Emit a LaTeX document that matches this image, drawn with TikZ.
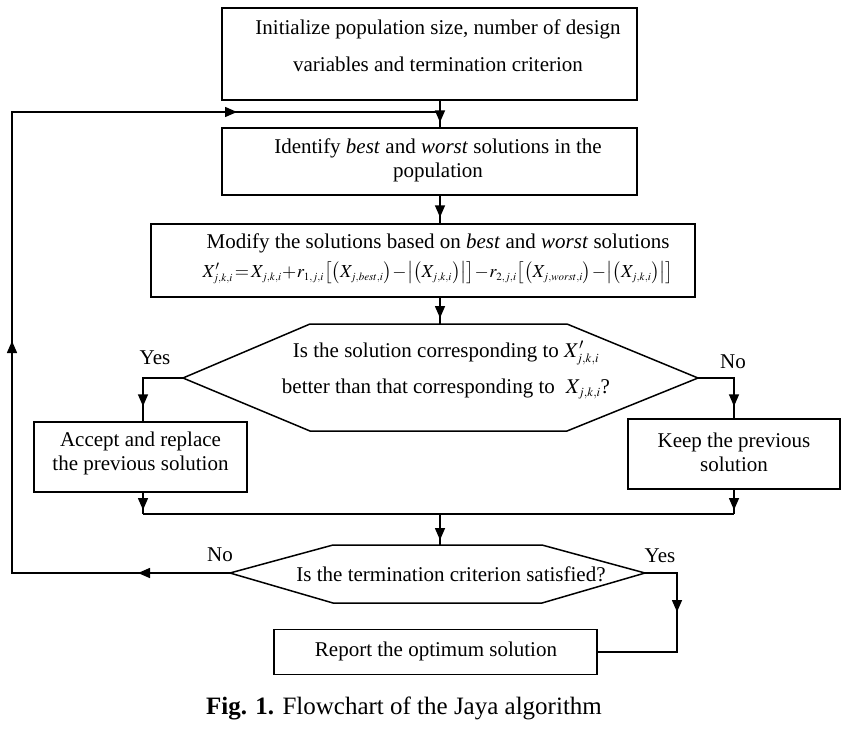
\documentclass[tikz,border=0pt]{standalone}
\usepackage{mathptmx}
\usepackage[no-math]{fontspec}
\setmainfont{Liberation Serif}
\usetikzlibrary{arrows.meta,decorations.markings}
\newcommand\sbx[1]{_{\scriptscriptstyle #1}}
\tikzset{
  wire/.style={line width=1.5pt},
  boxnode/.style={draw, line width=1.4pt, inner sep=0pt},
  txt/.style={inner sep=0pt, align=center, font=\fontsize{21}{24}\selectfont},
  tipat/.style={postaction={decorate,decoration={markings,mark=at position #1 with {\arrow{Triangle[length=12pt,width=10pt]}}}}},
}
\begin{document}
\begin{tikzpicture}[x=1pt,y=-1pt]
\useasboundingbox (0,0) rectangle (858,731);
% boxes
\node[boxnode, minimum width=415pt, minimum height=92pt] (b1) at (429.5,54) {};
\node[txt, font=\fontsize{21}{37}\selectfont] (t1) at (438,45.5) {Initialize population size, number of design\\variables and termination criterion};
\node[boxnode, minimum width=415pt, minimum height=67pt] (b2) at (429.5,161.5) {};
\node[txt] (t2) at (438,160) {Identify \textit{best} and \textit{worst} solutions in the\\population};
\node[boxnode, minimum width=544pt, minimum height=73pt] (b3) at (423,260.5) {};
\node[txt] (t3a) at (438,243) {Modify the solutions based on \textit{best} and \textit{worst} solutions};
\node[txt, font=\fontsize{18.3}{22}\selectfont] (t3b) at (438,273) {$X'\sbx{j,k,i}\!=\!X\sbx{j,k,i}\!+\!r\sbx{1,j,i}\big[\big(X\sbx{j,best,i}\big)\!-\!\big|\big(X\sbx{j,k,i}\big)\big|\big]\!-\!r\sbx{2,j,i}\big[\big(X\sbx{j,worst,i}\big)\!-\!\big|\big(X\sbx{j,k,i}\big)\big|\big]$};
% decision 1
\coordinate (h1L) at (183,378);
\coordinate (h1TL) at (310,324);
\coordinate (h1TR) at (567,324);
\coordinate (h1R) at (698,378);
\coordinate (h1BR) at (567,431);
\coordinate (h1BL) at (310,431);
\draw[wire] (h1L) -- (h1TL) -- (h1TR) -- (h1R) -- (h1BR) -- (h1BL) -- cycle;
\node[txt, font=\fontsize{21}{36}\selectfont] (t4) at (446,370) {Is the solution corresponding to $X'\sbx{j,k,i}$\\better than that corresponding to \;$X\sbx{j,k,i}$?};
\node[boxnode, minimum width=213pt, minimum height=70pt] (acc) at (140.5,457) {};
\node[txt] (t5) at (140.5,453) {Accept and replace\\the previous solution};
\node[boxnode, minimum width=212pt, minimum height=70pt] (keep) at (734,454) {};
\node[txt] (t6) at (734,452) {Keep the previous\\solution};
% decision 2
\coordinate (h2L) at (230,573);
\coordinate (h2TL) at (333,545);
\coordinate (h2TR) at (542,545);
\coordinate (h2R) at (645,573);
\coordinate (h2BR) at (542,603);
\coordinate (h2BL) at (333,603);
\draw[wire] (h2L) -- (h2TL) -- (h2TR) -- (h2R) -- (h2BR) -- (h2BL) -- cycle;
\node[txt] (t7) at (451,574) {Is the termination criterion satisfied?};
\node[boxnode, minimum width=323pt, minimum height=45pt] (rep) at (435.5,652) {};
\node[txt] (t8) at (436,651) {Report the optimum solution};
% labels
\node[txt] (yes1) at (155,358) {Yes};
\node[txt] (no1) at (733,362) {No};
\node[txt] (no2) at (220,555) {No};
\node[txt] (yes2) at (660,556) {Yes};
% caption
\node[inner sep=0pt, font=\fontsize{25}{30}\selectfont] (cap) at (404,708) {\textbf{Fig. 1.} Flowchart of the Jaya algorithm};
% helper coordinates
\coordinate (x440) at (440,0);
\coordinate (jl) at (143,514);
\coordinate (jr) at (734,514);
\coordinate (jm) at (440,514);
\coordinate (lb) at (12,573);
\coordinate (lt) at (12,112);
\coordinate (yc) at (677,652);
% connectors
\draw[wire, tipat=-5pt] (b1.south -| x440) -- (b2.north -| x440);
\draw[wire, tipat=-6pt] (b2.south -| x440) -- (b3.north -| x440);
\draw[wire, tipat=-6pt] (b3.south -| x440) -- (h1TL -| x440);
\draw[wire, tipat=-15pt] (h1L) -| (acc.north -| jl);
\draw[wire, tipat=-12pt] (h1R) -| (keep.north -| jr);
\draw[wire, tipat=-4pt] (acc.south -| jl) -- (jl);
\draw[wire, tipat=-4pt] (keep.south -| jr) -- (jr);
\draw[wire] (jl) -- (jr);
\draw[wire, tipat=-5pt] (jm) -- (h2TL -| jm);
\draw[wire, tipat=71pt] (h2R) -| (yc) -- (rep.east);
\draw[wire, tipat=92pt, tipat=450pt, tipat=904pt] (h2L) -- (lb) -- (lt) -- (lt -| x440);
\end{tikzpicture}
\end{document}
